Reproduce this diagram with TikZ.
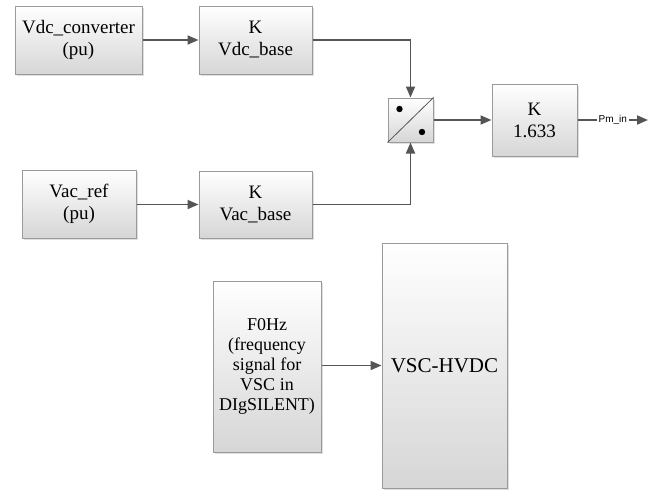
\documentclass[tikz,border=0pt]{standalone}
\usepackage{fontspec}
\setmainfont{Liberation Serif}
\newfontfamily\labelfont{Liberation Sans}
\usepackage{tikz}
\usetikzlibrary{arrows.meta,shadows}
\definecolor{blkedge}{HTML}{9A9A9A}
\definecolor{blklow}{HTML}{D6D6D6}
\definecolor{wiregray}{HTML}{555555}

\begin{document}
\begin{tikzpicture}[x=0.5pt,y=-0.5pt,
  blk/.style={draw=blkedge,line width=0.5pt,top color=white,bottom color=blklow,
    drop shadow={shadow xshift=0.8pt,shadow yshift=-0.8pt,opacity=0.25},
    inner sep=0pt,align=center,font=\fontsize{9.5}{11}\selectfont},
  wire/.style={draw=wiregray,line width=0.9pt,-{Triangle[length=5.5pt,width=4.5pt]}}]
  \useasboundingbox (0,0) rectangle (664,493);
  % upper path
  \node[blk,minimum width=63.5pt,minimum height=34pt] (vdcin) at (78.5,40) {Vdc\_converter\\(pu)};
  \node[blk,minimum width=56.5pt,minimum height=34pt] (vdcbase) at (255.5,40) {K\\Vdc\_base};
  \node[blk,minimum width=57pt,minimum height=34pt] (vacin) at (79,204) {Vac\_ref\\(pu)};
  \node[blk,minimum width=56.5pt,minimum height=33.5pt] (vacbase) at (255.5,204.5) {K\\Vac\_base};
  \node[blk,minimum width=22.5pt,minimum height=22pt] (div) at (410.5,120) {};
  \node[blk,minimum width=42.5pt,minimum height=36pt] (gain) at (534.5,120) {K\\1.633};
  \coordinate (pmout) at (648,120);
  % divider symbol
  \draw[wiregray,line width=0.4pt] (div.south west) -- (div.north east);
  \fill (399.5,109) circle[radius=1.6pt];
  \fill (422,132) circle[radius=1.6pt];
  % lower part
  \node[blk,minimum width=54pt,minimum height=85.5pt,font=\fontsize{9}{10}\selectfont] (f0) at (267,366.5)
    {F0Hz\\(frequency\\signal for\\VSC in\\DIgSILENT)};
  \node[blk,minimum width=62.5pt,minimum height=122.5pt,font=\fontsize{10.5}{12}\selectfont] (vsc) at (444.5,365.5) {VSC-HVDC};
  % connections
  \draw[wire] (vdcin) -- (vdcbase);
  \draw[wire] (vacin.east |- vacbase) -- (vacbase);
  \draw[wire] (vdcbase.east) -| (div.north);
  \draw[wire] (vacbase.east) -| (div.south);
  \draw[wire] (div) -- (gain);
  \draw[wire] (gain) -- (pmout) node[midway,fill=white,inner sep=0.8pt,font=\labelfont\fontsize{5}{6}\selectfont] {Pm\_in};
  \draw[wire] (f0.east |- vsc) -- (vsc.west);
\end{tikzpicture}
\end{document}
